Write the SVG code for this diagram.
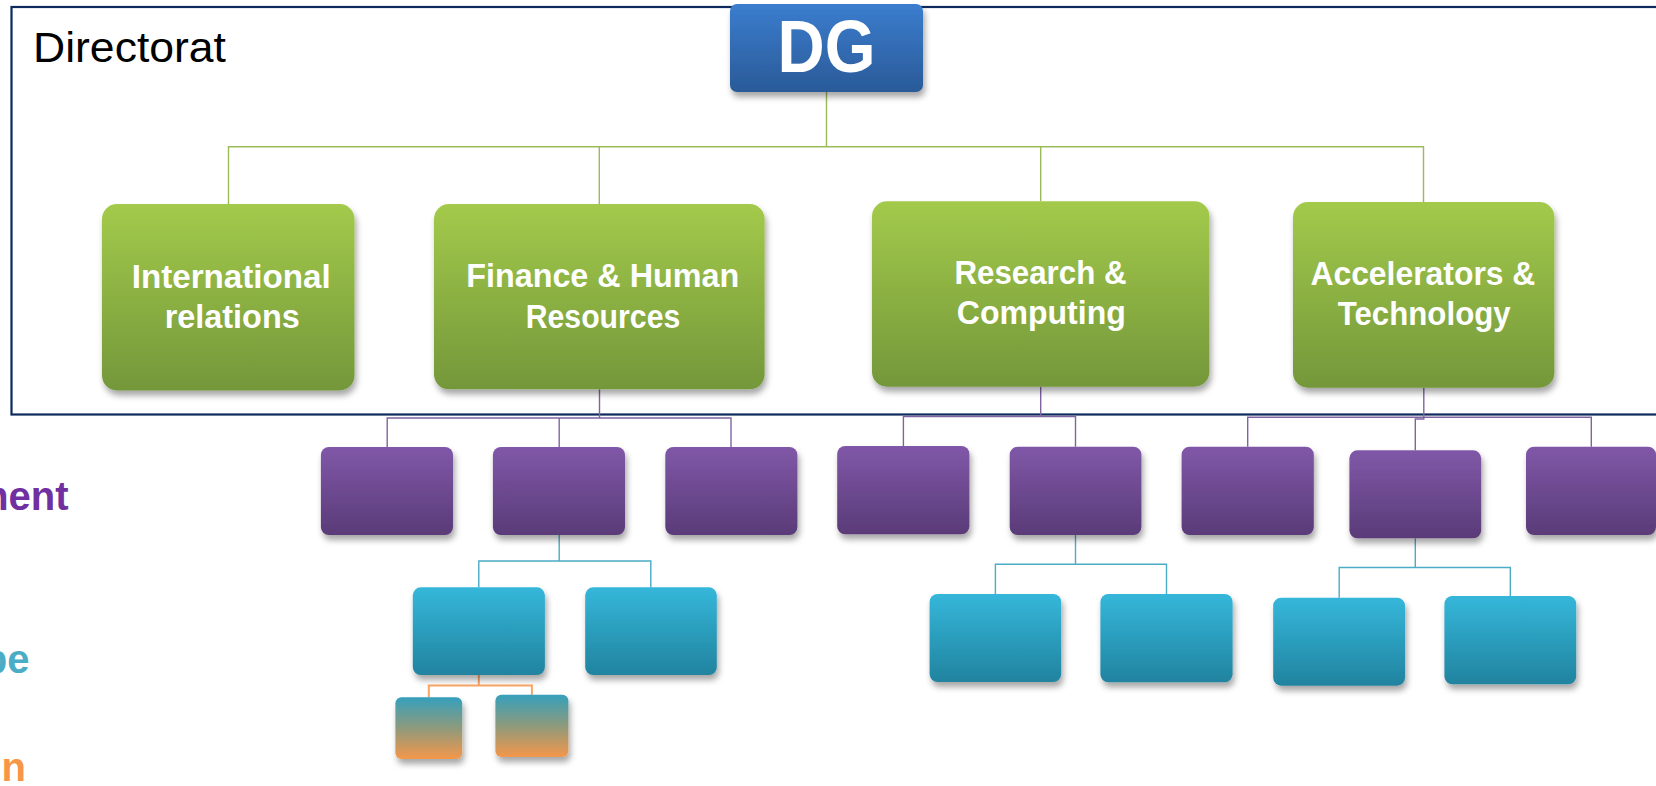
<svg xmlns="http://www.w3.org/2000/svg" width="1656" height="786" viewBox="0 0 1656 786">
  <defs>
    <linearGradient id="gBlue" x1="0" y1="0" x2="0" y2="1">
      <stop offset="0" stop-color="#3b7dce"/>
      <stop offset="1" stop-color="#2a5a98"/>
    </linearGradient>
    <linearGradient id="gGreen" x1="0" y1="0" x2="0" y2="1">
      <stop offset="0" stop-color="#a3ca4b"/>
      <stop offset="1" stop-color="#74973a"/>
    </linearGradient>
    <linearGradient id="gPurple" x1="0" y1="0" x2="0" y2="1">
      <stop offset="0" stop-color="#8058a8"/>
      <stop offset="1" stop-color="#5a3b78"/>
    </linearGradient>
    <linearGradient id="gTeal" x1="0" y1="0" x2="0" y2="1">
      <stop offset="0" stop-color="#35b7da"/>
      <stop offset="1" stop-color="#21839f"/>
    </linearGradient>
    <linearGradient id="gOrange" x1="0" y1="0" x2="0" y2="1">
      <stop offset="0" stop-color="#35a0bc"/>
      <stop offset="0.5" stop-color="#8e9a7c"/>
      <stop offset="1" stop-color="#f4974a"/>
    </linearGradient>
    <filter id="shadow" x="-10%" y="-10%" width="130%" height="135%">
      <feDropShadow dx="2" dy="5" stdDeviation="3" flood-color="#000" flood-opacity="0.35"/>
    </filter>
  </defs>
  <style>
    .box { filter: url(#shadow); }
    .blue { fill: url(#gBlue); }
    .green { fill: url(#gGreen); }
    .purple { fill: url(#gPurple); }
    .teal { fill: url(#gTeal); }
    .orange { fill: url(#gOrange); }
    .lbl { font-family: "Liberation Sans", Arial, sans-serif; font-weight: bold; fill: #ffffff; text-anchor: middle; font-size: 33px; }
    .side { font-family: "Liberation Sans", Arial, sans-serif; font-weight: bold; font-size: 40px; text-anchor: end; }
    .c { fill: none; stroke-width: 1.4; }
    .cg { stroke: #9bbb59; }
    .cp { stroke: #8064a2; }
    .ct { stroke: #4bacc6; }
    .co { stroke: #f9a564; stroke-width: 2; }
  </style>

  <rect width="1656" height="786" fill="#ffffff"/>

  <!-- directorate frame, open to the right edge -->
  <g id="frame">
    <rect x="11.5" y="7" width="1670" height="407.5" fill="none" stroke="#0e2a5c" stroke-width="2.2"/>
    <text x="33" y="61.7" font-family="'Liberation Sans', Arial, sans-serif" font-size="43" textLength="193" lengthAdjust="spacingAndGlyphs" fill="#000000">Directorat</text>
  </g>

  <!-- level captions at the left edge -->
  <g id="captions">
    <text class="side" x="68.5" y="510" fill="#7030a0">ment</text>
    <text class="side" x="29.5" y="673.3" fill="#4bacc6">pe</text>
    <text class="side" x="26" y="781" fill="#f79646">n</text>
  </g>

  <g id="connectors">
    <path class="c cg" d="M826.5 92V146.7 M228.5 204V146.7H1423.5V202 M599.3 146.7V204 M1040.7 146.7V201.3"/>
    <path class="c cp" d="M599.5 389.3V418 M387.2 447V418H731V447 M559.2 418V447"/>
    <path class="c cp" d="M1040.7 386.7V416.5 M903.4 446V416.5H1075.5V446.7"/>
    <path class="c cp" d="M1423.8 387.7V419H1415.3V450.3 M1247.7 446.7V417.3H1591.3V446.7"/>
    <path class="c ct" d="M559.2 535V561 M478.8 587.3V561H650.8V587.3"/>
    <path class="c ct" d="M1075.5 535V564.3 M995.4 594V564.3H1166.5V594"/>
    <path class="c ct" d="M1415.3 538.3V567.5 M1339.2 597.7V567.5H1510.3V596"/>
    <path class="c co" d="M478.8 675V685.5 M428.8 697.3V685.5H531.9V694.7"/>
  </g>

  <g id="dg">
    <rect class="box blue" x="730" y="4" width="193" height="88" rx="7"/>
    <text x="826.5" y="71.7" font-family="'Liberation Sans', Arial, sans-serif" font-weight="bold" font-size="75" fill="#ffffff" text-anchor="middle" textLength="98" lengthAdjust="spacingAndGlyphs">DG</text>
  </g>

  <g id="international-relations">
    <rect class="box green" x="102" y="204" width="252.5" height="186.5" rx="15"/>
    <text class="lbl" x="231.2" y="288" textLength="199" lengthAdjust="spacingAndGlyphs">International</text>
    <text class="lbl" x="232.2" y="328" textLength="135" lengthAdjust="spacingAndGlyphs">relations</text>
  </g>

  <g id="finance-hr">
    <rect class="box green" x="434" y="204" width="330.6" height="185.3" rx="15"/>
    <text class="lbl" x="602.7" y="287" textLength="273" lengthAdjust="spacingAndGlyphs">Finance &amp; Human</text>
    <text class="lbl" x="603" y="327.5" textLength="154.5" lengthAdjust="spacingAndGlyphs">Resources</text>
  </g>

  <g id="research-computing">
    <rect class="box green" x="872" y="201.3" width="337.4" height="185.4" rx="15"/>
    <text class="lbl" x="1040.5" y="283.5" textLength="172" lengthAdjust="spacingAndGlyphs">Research &amp;</text>
    <text class="lbl" x="1041.3" y="324" textLength="169" lengthAdjust="spacingAndGlyphs">Computing</text>
  </g>

  <g id="accelerators-technology">
    <rect class="box green" x="1293" y="202" width="261.4" height="185.7" rx="15"/>
    <text class="lbl" x="1422.9" y="284.5" textLength="225" lengthAdjust="spacingAndGlyphs">Accelerators &amp;</text>
    <text class="lbl" x="1424.2" y="325" textLength="173" lengthAdjust="spacingAndGlyphs">Technology</text>
  </g>

  <!-- department level -->
  <g id="dept-1"><rect class="box purple" x="320.9" y="447" width="132.1" height="88" rx="8"/></g>
  <g id="dept-2"><rect class="box purple" x="492.9" y="447" width="132.1" height="88" rx="8"/></g>
  <g id="dept-3"><rect class="box purple" x="665.3" y="447" width="132.1" height="88" rx="8"/></g>
  <g id="dept-4"><rect class="box purple" x="837.2" y="446" width="132.2" height="88.3" rx="8"/></g>
  <g id="dept-5"><rect class="box purple" x="1009.7" y="446.7" width="131.7" height="88.3" rx="8"/></g>
  <g id="dept-6"><rect class="box purple" x="1181.6" y="446.7" width="132.2" height="88.3" rx="8"/></g>
  <g id="dept-7"><rect class="box purple" x="1349.4" y="450.3" width="131.8" height="88" rx="8"/></g>
  <g id="dept-8"><rect class="box purple" x="1526" y="446.7" width="130" height="88.3" rx="8"/></g>

  <!-- group level -->
  <g id="group-1"><rect class="box teal" x="412.8" y="587.3" width="132.1" height="87.7" rx="8"/></g>
  <g id="group-2"><rect class="box teal" x="585.2" y="587.3" width="131.6" height="87.7" rx="8"/></g>
  <g id="group-3"><rect class="box teal" x="929.6" y="594" width="131.6" height="88" rx="8"/></g>
  <g id="group-4"><rect class="box teal" x="1100.4" y="594" width="132.2" height="88.3" rx="8"/></g>
  <g id="group-5"><rect class="box teal" x="1273.2" y="597.7" width="131.8" height="88" rx="8"/></g>
  <g id="group-6"><rect class="box teal" x="1444.4" y="596" width="131.8" height="88.3" rx="8"/></g>

  <!-- section level -->
  <g id="section-1"><rect class="box orange" x="395.4" y="697.3" width="66.8" height="61.7" rx="6"/></g>
  <g id="section-2"><rect class="box orange" x="495.4" y="694.7" width="73" height="62.3" rx="6"/></g>
</svg>
